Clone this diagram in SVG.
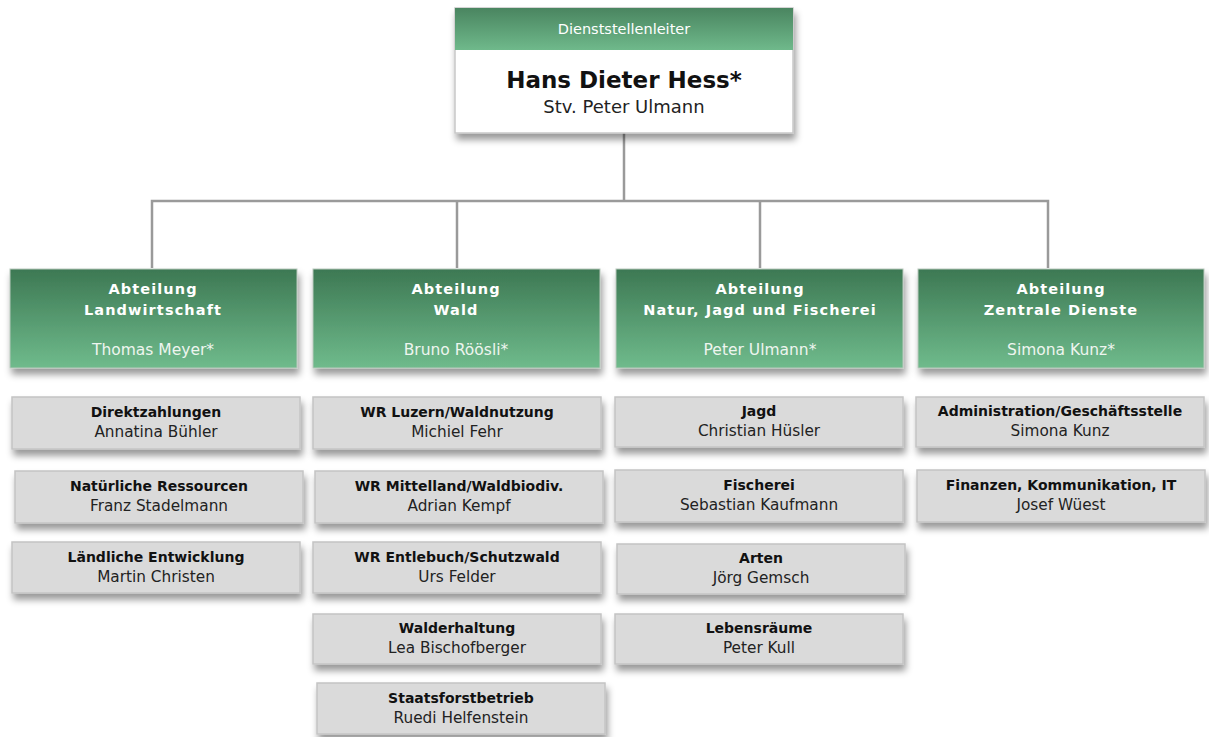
<svg xmlns="http://www.w3.org/2000/svg" width="1209" height="737" viewBox="0 0 1209 737">
<defs>
<linearGradient id="gDept" x1="0" y1="0" x2="0" y2="1">
<stop offset="0" stop-color="#3d7853"/>
<stop offset="1" stop-color="#6fbb8c"/>
</linearGradient>
<linearGradient id="gHead" x1="0" y1="0" x2="0" y2="1">
<stop offset="0" stop-color="#4a8560"/>
<stop offset="1" stop-color="#6fb98b"/>
</linearGradient>
<filter id="sh" x="-10%" y="-20%" width="125%" height="170%">
<feDropShadow dx="2" dy="6" stdDeviation="3.5" flood-color="#000" flood-opacity="0.4"/>
</filter>
</defs>
<style>
.sub{fill:#dadada;stroke:#c4c4c4;stroke-width:1.5}
.dept{fill:url(#gDept);stroke:#b8c8bc;stroke-width:1}
.t{font-family:"DejaVu Sans",sans-serif;font-size:14px;font-weight:bold;fill:#111;text-anchor:middle}
.n{font-family:"DejaVu Sans",sans-serif;font-size:15.3px;fill:#222;text-anchor:middle}
.dt{font-family:"DejaVu Sans",sans-serif;font-size:14.5px;font-weight:bold;fill:#fff;text-anchor:middle;letter-spacing:1.1px}
.dn{font-family:"DejaVu Sans",sans-serif;font-size:15.5px;fill:#eef5ef;text-anchor:middle}
.con{fill:none;stroke:#9a9a9a;stroke-width:2.5}
</style>
<rect width="1209" height="737" fill="#fff"/>
<g id="connectors">
<path class="con" d="M624 133V201M152 268V201H1048V268M457 201V268M760 201V268"/>
</g>
<g id="top">
<rect x="455" y="8" width="338" height="125" fill="#fff" stroke="#c8c8c8" stroke-width="1.5" filter="url(#sh)"/>
<rect x="455" y="8" width="338" height="42" fill="url(#gHead)"/>
<text x="624" y="34" font-family="DejaVu Sans,sans-serif" font-size="14.5" fill="#fff" text-anchor="middle">Dienststellenleiter</text>
<text x="624" y="88" font-family="DejaVu Sans,sans-serif" font-size="23" font-weight="bold" fill="#111" text-anchor="middle">Hans Dieter Hess*</text>
<text x="624" y="113" font-family="DejaVu Sans,sans-serif" font-size="18" fill="#222" text-anchor="middle">Stv. Peter Ulmann</text>
</g>
<g id="dept-landwirtschaft">
<rect class="dept" x="10" y="269" width="287" height="99" filter="url(#sh)"/>
<text class="dt" x="153" y="294">Abteilung</text>
<text class="dt" x="153" y="315">Landwirtschaft</text>
<text class="dn" x="153" y="355">Thomas Meyer*</text>
</g>
<g id="dept-wald">
<rect class="dept" x="313" y="269" width="287" height="99" filter="url(#sh)"/>
<text class="dt" x="456" y="294">Abteilung</text>
<text class="dt" x="456" y="315">Wald</text>
<text class="dn" x="456" y="355">Bruno Röösli*</text>
</g>
<g id="dept-natur">
<rect class="dept" x="616" y="269" width="287" height="99" filter="url(#sh)"/>
<text class="dt" x="760" y="294">Abteilung</text>
<text class="dt" x="760" y="315">Natur, Jagd und Fischerei</text>
<text class="dn" x="760" y="355">Peter Ulmann*</text>
</g>
<g id="dept-zentrale">
<rect class="dept" x="918" y="269" width="286" height="99" filter="url(#sh)"/>
<text class="dt" x="1061" y="294">Abteilung</text>
<text class="dt" x="1061" y="315">Zentrale Dienste</text>
<text class="dn" x="1061" y="355">Simona Kunz*</text>
</g>
<g id="direktzahlungen">
<rect class="sub" x="12" y="397" width="288" height="52" filter="url(#sh)"/>
<text class="t" x="156" y="417">Direktzahlungen</text>
<text class="n" x="156" y="437">Annatina Bühler</text>
</g>
<g id="natuerliche-ressourcen">
<rect class="sub" x="15" y="471" width="288" height="52" filter="url(#sh)"/>
<text class="t" x="159" y="491">Natürliche Ressourcen</text>
<text class="n" x="159" y="511">Franz Stadelmann</text>
</g>
<g id="laendliche-entwicklung">
<rect class="sub" x="12" y="542" width="288" height="51" filter="url(#sh)"/>
<text class="t" x="156" y="562">Ländliche Entwicklung</text>
<text class="n" x="156" y="582">Martin Christen</text>
</g>
<g id="wr-luzern">
<rect class="sub" x="313" y="397" width="288" height="52" filter="url(#sh)"/>
<text class="t" x="457" y="417">WR Luzern/Waldnutzung</text>
<text class="n" x="457" y="437">Michiel Fehr</text>
</g>
<g id="wr-mittelland">
<rect class="sub" x="315" y="471" width="288" height="52" filter="url(#sh)"/>
<text class="t" x="459" y="491">WR Mittelland/Waldbiodiv.</text>
<text class="n" x="459" y="511">Adrian Kempf</text>
</g>
<g id="wr-entlebuch">
<rect class="sub" x="313" y="542" width="288" height="51" filter="url(#sh)"/>
<text class="t" x="457" y="562">WR Entlebuch/Schutzwald</text>
<text class="n" x="457" y="582">Urs Felder</text>
</g>
<g id="walderhaltung">
<rect class="sub" x="313" y="614" width="288" height="50" filter="url(#sh)"/>
<text class="t" x="457" y="633">Walderhaltung</text>
<text class="n" x="457" y="653">Lea Bischofberger</text>
</g>
<g id="staatsforstbetrieb">
<rect class="sub" x="317" y="683" width="288" height="51" filter="url(#sh)"/>
<text class="t" x="461" y="703">Staatsforstbetrieb</text>
<text class="n" x="461" y="723">Ruedi Helfenstein</text>
</g>
<g id="jagd">
<rect class="sub" x="615" y="397" width="288" height="50" filter="url(#sh)"/>
<text class="t" x="759" y="416">Jagd</text>
<text class="n" x="759" y="436">Christian Hüsler</text>
</g>
<g id="fischerei">
<rect class="sub" x="615" y="470" width="288" height="52" filter="url(#sh)"/>
<text class="t" x="759" y="490">Fischerei</text>
<text class="n" x="759" y="510">Sebastian Kaufmann</text>
</g>
<g id="arten">
<rect class="sub" x="617" y="544" width="288" height="50" filter="url(#sh)"/>
<text class="t" x="761" y="563">Arten</text>
<text class="n" x="761" y="583">Jörg Gemsch</text>
</g>
<g id="lebensraeume">
<rect class="sub" x="615" y="614" width="288" height="50" filter="url(#sh)"/>
<text class="t" x="759" y="633">Lebensräume</text>
<text class="n" x="759" y="653">Peter Kull</text>
</g>
<g id="administration">
<rect class="sub" x="916" y="397" width="288" height="50" filter="url(#sh)"/>
<text class="t" x="1060" y="416">Administration/Geschäftsstelle</text>
<text class="n" x="1060" y="436">Simona Kunz</text>
</g>
<g id="finanzen">
<rect class="sub" x="917" y="470" width="288" height="52" filter="url(#sh)"/>
<text class="t" x="1061" y="490">Finanzen, Kommunikation, IT</text>
<text class="n" x="1061" y="510">Josef Wüest</text>
</g>
</svg>
